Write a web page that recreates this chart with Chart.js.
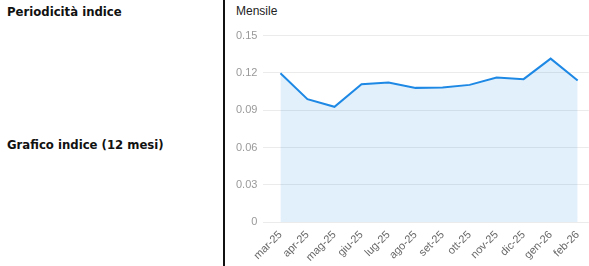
<!DOCTYPE html>
<html><head><meta charset="utf-8">
<script src="https://cdn.jsdelivr.net/npm/chart.js@4.4.1/dist/chart.umd.min.js"></script>
<style>
html,body{margin:0;padding:0;background:#fff;width:589px;height:266px;overflow:hidden;position:relative;}
.lbl{position:absolute;left:7px;font-family:"DejaVu Sans",sans-serif;font-weight:bold;font-size:11.7px;color:#111;white-space:nowrap;}
#vline{position:absolute;left:223px;top:0;width:2px;height:266px;background:#111;}
#mens{position:absolute;left:236px;top:4px;font-family:"Liberation Sans",Arial,sans-serif;font-size:12px;color:#222;}
#wrap{position:absolute;left:230px;top:23px;width:363px;height:247px;}
</style></head>
<body>
<div class="lbl" style="top:5px">Periodicità indice</div>
<div class="lbl" style="top:138px">Grafico indice (12 mesi)</div>
<div id="vline"></div>
<div id="mens">Mensile</div>
<div id="wrap"><canvas id="c" width="363" height="247"></canvas></div>
<script>
const categories = ["mar-25","apr-25","mag-25","giu-25","lug-25","ago-25","set-25","ott-25","nov-25","dic-25","gen-26","feb-26"];
const values = [0.1198, 0.0989, 0.0928, 0.1110, 0.1123, 0.1080, 0.1083, 0.1104, 0.1163, 0.1150, 0.1315, 0.1139];
const yTicks = [0, 0.03, 0.06, 0.09, 0.12, 0.15];

new Chart(document.getElementById('c'), {
  type: 'line',
  data: {
    datasets: [{
      data: values.map((v, i) => ({x: i, y: v})),
      borderColor: '#1e88e5',
      backgroundColor: 'rgba(30,136,229,0.13)',
      borderWidth: 2,
      fill: 'origin',
      pointRadius: 0,
      tension: 0
    }]
  },
  options: {
    responsive: false,
    animation: false,
    layout: {padding: {top: 0, right: 0, bottom: 0, left: 0}},
    plugins: {legend: {display: false}, tooltip: {enabled: false}},
    scales: {
      x: {
        type: 'linear',
        min: -0.63,
        max: 11.41,
        grid: {display: false, drawTicks: false},
        border: {display: false},
        afterBuildTicks: axis => { axis.ticks = categories.map((_, i) => ({value: i})); },
        ticks: {
          callback: (v) => categories[v] ?? '',
          minRotation: 45, maxRotation: 45, autoSkip: false,
          color: '#666', padding: 6,
          font: {family: 'Liberation Sans, Arial, sans-serif', size: 11}
        }
      },
      y: {
        min: 0, max: 0.15,
        afterBuildTicks: axis => { axis.ticks = yTicks.map(v => ({value: v})); },
        grid: {color: '#ebebeb', drawTicks: false},
        border: {display: false},
        ticks: {
          color: '#999', padding: 6,
          font: {family: 'Liberation Sans, Arial, sans-serif', size: 11},
          callback: v => String(Number(v.toFixed(2)))
        }
      }
    }
  }
});
</script>
</body></html>
